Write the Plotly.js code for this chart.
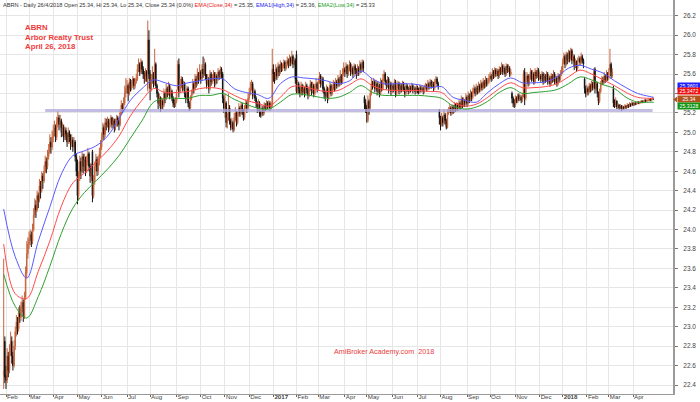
<!DOCTYPE html>
<html><head><meta charset="utf-8">
<script src="https://cdn.plot.ly/plotly-3.0.1.min.js"></script>
<style>html,body{margin:0;padding:0;background:#fff}#chart{width:700px;height:402px}</style>
</head><body><div id="chart"></div>
<script>
// Month tick labels and the trading-day index where each month starts
const monthLabels = ['Feb','Mar','Apr','May','Jun','Jul','Aug','Sep','Oct','Nov','Dec','<b>2017</b>','Feb','Mar','Apr','May','Jun','Jul','Aug','Sep','Oct','Nov','Dec','<b>2018</b>','Feb','Mar','Apr'];
const monthStartIdx = [2,22,43,64,85,107,127,150,171,192,213,234,254,273,296,315,337,359,379,402,422,444,465,485,506,525,546];

// Price axis ticks (25.4 is hidden behind the last-value labels in the original)
const priceTicks = [22.4,22.6,22.8,23.0,23.2,23.4,23.6,23.8,24.0,24.2,24.4,24.6,24.8,25.0,25.2,25.4,25.6,25.8,26.0,26.2];
const priceTickText = ['22.4','22.6','22.8','23.0','23.2','23.4','23.6','23.8','24.0','24.2','24.4','24.6','24.8','25.0','25.2','','25.6','25.8','26.0','26.2'];

// Daily OHLC (one line per month, Jan 28 2016 .. Apr 26 2018)
const open = [
22.50,22.85,
22.50,22.45,22.70,22.55,22.75,22.85,22.70,22.60,22.80,22.95,23.05,22.98,23.15,23.10,23.20,23.25,23.10,23.30,23.55,23.75,
23.85,23.90,23.95,23.88,24.00,24.15,24.25,24.20,24.35,24.30,24.45,24.40,24.55,24.50,24.60,24.70,24.65,24.75,24.80,24.90,24.85,
24.95,25.00,25.05,24.95,25.10,25.15,25.08,25.12,25.00,25.05,24.95,25.02,24.98,24.90,25.00,24.95,24.88,24.92,24.85,24.90,24.75,
24.70,24.35,24.55,24.70,24.60,24.75,24.65,24.72,24.60,24.70,24.78,24.65,24.55,24.80,24.35,24.50,24.65,24.72,24.60,24.70,24.78,
24.85,24.95,25.05,24.98,25.10,25.08,25.12,25.05,25.10,25.15,25.08,25.12,25.05,25.10,25.15,25.12,25.08,25.20,25.28,25.25,25.30,25.40,
25.45,25.48,25.40,25.52,25.45,25.50,25.55,25.48,25.52,25.55,25.65,25.70,25.62,25.72,25.65,25.60,25.55,25.62,25.45,25.95,
25.60,25.45,25.55,25.60,25.50,25.70,25.48,25.40,25.30,25.35,25.25,25.32,25.28,25.40,25.35,25.45,25.40,25.48,25.38,25.42,25.35,25.30,25.28,
25.32,25.45,25.70,25.42,25.50,25.55,25.45,25.50,25.40,25.35,25.45,25.30,25.25,25.35,25.40,25.50,25.45,25.55,25.50,25.60,25.55,
25.62,25.55,25.65,25.60,25.70,25.58,25.50,25.55,25.45,25.60,25.52,25.55,25.60,25.50,25.58,25.55,25.62,25.58,25.65,25.60,25.35,
25.25,25.30,25.10,25.15,25.25,25.12,25.05,25.10,25.03,25.15,25.20,25.10,25.18,25.25,25.20,25.28,25.22,25.15,25.25,25.30,25.25,
25.35,25.40,25.45,25.50,25.38,25.42,25.35,25.30,25.25,25.30,25.20,25.18,25.25,25.20,25.28,25.25,25.30,25.27,25.30,25.25,25.28,
25.65,25.60,25.55,25.65,25.58,25.68,25.62,25.70,25.65,25.68,25.72,25.66,25.70,25.74,25.70,25.76,25.72,25.78,25.70,25.74,
25.80,25.42,25.50,25.45,25.40,25.48,25.42,25.45,25.40,25.48,25.44,25.38,25.45,25.50,25.42,25.48,25.40,25.46,25.50,
25.45,25.52,25.58,25.50,25.55,25.45,25.40,25.38,25.45,25.35,25.42,25.48,25.40,25.45,25.50,25.45,25.52,25.48,25.55,25.50,25.58,25.52,25.60,
25.65,25.62,25.68,25.60,25.65,25.70,25.62,25.66,25.60,25.68,25.64,25.60,25.66,25.62,25.70,25.65,25.72,25.36,25.30,
25.25,25.12,25.32,25.25,25.40,25.50,25.48,25.52,25.45,25.50,25.42,25.48,25.40,25.52,25.45,25.55,25.60,25.52,25.48,25.55,25.45,25.50,
25.42,25.48,25.45,25.52,25.40,25.46,25.50,25.42,25.48,25.44,25.50,25.45,25.40,25.48,25.45,25.42,25.46,25.44,25.48,25.43,25.45,25.42,
25.46,25.44,25.42,25.46,25.44,25.45,25.42,25.46,25.48,25.45,25.50,25.47,25.52,25.48,25.50,25.46,25.52,25.55,25.50,25.22,
25.15,25.08,25.15,25.10,25.18,25.12,25.05,25.20,25.22,25.25,25.20,25.26,25.22,25.28,25.24,25.28,25.25,25.30,25.26,25.34,25.28,25.32,25.30,
25.36,25.30,25.38,25.34,25.40,25.36,25.42,25.45,25.40,25.46,25.42,25.48,25.44,25.50,25.46,25.52,25.48,25.54,25.50,25.52,
25.56,25.58,25.55,25.62,25.58,25.64,25.60,25.63,25.58,25.65,25.62,25.68,25.62,25.66,25.60,25.68,25.64,25.66,25.60,25.40,25.35,25.30,
25.28,25.35,25.32,25.38,25.34,25.36,25.33,25.38,25.62,25.35,25.55,25.58,25.50,25.56,25.62,25.55,25.60,25.52,25.62,25.58,25.64,
25.56,25.58,25.55,25.60,25.52,25.58,25.54,25.60,25.52,25.56,25.50,25.58,25.54,25.60,25.52,25.56,25.50,25.58,25.55,25.60,
25.62,25.72,25.78,25.70,25.80,25.74,25.82,25.76,25.84,25.74,25.78,25.68,25.72,25.66,25.74,25.76,25.72,25.78,25.74,25.55,25.45,
25.40,25.45,25.42,25.48,25.44,25.50,25.46,25.65,25.45,25.50,25.40,25.32,25.42,25.50,25.55,25.52,25.58,25.54,25.60,
25.56,25.64,25.70,25.58,25.45,25.30,25.28,25.32,25.26,25.28,25.25,25.27,25.24,25.26,25.25,25.27,25.26,25.28,25.27,25.29,25.28,
25.30,25.28,25.30,25.29,25.30,25.31,25.30,25.31,25.32,25.31,25.32,25.33,25.32,25.33,25.33,25.34,25.33,25.34,25.34
];
const high = [
23.70,22.90,
22.60,22.78,22.74,22.82,22.95,22.90,22.74,22.86,23.00,23.12,23.10,23.20,23.22,23.26,23.32,23.28,23.36,23.62,23.88,23.92,
23.98,24.00,23.98,24.06,24.22,24.32,24.30,24.40,24.38,24.52,24.50,24.60,24.58,24.66,24.76,24.74,24.82,24.88,24.98,24.95,25.02,
25.08,25.12,25.08,25.16,25.22,25.18,25.18,25.14,25.10,25.08,25.06,25.05,25.00,25.05,25.02,24.98,24.98,24.95,24.95,24.92,24.78,
24.72,24.60,24.76,24.74,24.80,24.78,24.78,24.75,24.76,24.84,24.80,24.68,24.68,24.82,24.56,24.70,24.78,24.75,24.76,24.84,24.92,
25.00,25.10,25.08,25.15,25.14,25.16,25.14,25.14,25.18,25.16,25.15,25.14,25.14,25.18,25.17,25.14,25.24,25.33,25.30,25.36,25.48,25.56,
25.54,25.50,25.56,25.55,25.54,25.58,25.56,25.56,25.60,25.70,25.76,25.72,25.76,25.74,25.68,25.63,25.66,25.64,26.15,26.05,
25.64,25.60,25.68,25.62,25.86,25.72,25.50,25.42,25.40,25.37,25.36,25.34,25.45,25.42,25.50,25.47,25.52,25.50,25.46,25.44,25.37,25.34,25.36,
25.44,25.74,25.76,25.55,25.58,25.57,25.53,25.52,25.42,25.48,25.47,25.32,25.38,25.44,25.55,25.52,25.60,25.58,25.66,25.62,25.70,
25.64,25.70,25.78,25.76,25.72,25.60,25.60,25.57,25.64,25.62,25.60,25.64,25.62,25.62,25.60,25.66,25.64,25.68,25.67,25.62,25.38,
25.40,25.32,25.20,25.40,25.28,25.14,25.15,25.12,25.20,25.26,25.22,25.22,25.30,25.27,25.31,25.30,25.24,25.28,25.34,25.32,25.40,
25.46,25.52,25.54,25.52,25.46,25.44,25.37,25.32,25.34,25.32,25.22,25.28,25.27,25.31,25.30,25.33,25.32,25.33,25.32,25.31,25.86,
25.70,25.62,25.70,25.67,25.72,25.70,25.74,25.72,25.71,25.75,25.74,25.73,25.78,25.76,25.80,25.78,25.84,25.80,25.77,25.76,
25.84,25.54,25.52,25.47,25.52,25.50,25.49,25.47,25.52,25.50,25.46,25.48,25.54,25.52,25.52,25.50,25.50,25.56,25.52,
25.56,25.62,25.60,25.58,25.57,25.47,25.43,25.49,25.47,25.46,25.52,25.50,25.49,25.54,25.52,25.56,25.54,25.59,25.57,25.64,25.60,25.66,25.72,
25.67,25.72,25.70,25.69,25.74,25.72,25.70,25.68,25.71,25.70,25.66,25.70,25.68,25.74,25.72,25.75,25.74,25.38,25.34,
25.28,25.38,25.34,25.44,25.56,25.53,25.56,25.54,25.54,25.52,25.52,25.50,25.56,25.54,25.60,25.64,25.62,25.54,25.58,25.57,25.53,25.52,
25.51,25.50,25.55,25.54,25.49,25.53,25.52,25.51,25.50,25.53,25.52,25.47,25.51,25.50,25.47,25.49,25.48,25.51,25.50,25.48,25.47,25.49,
25.48,25.46,25.49,25.48,25.48,25.47,25.49,25.51,25.50,25.54,25.52,25.55,25.54,25.53,25.52,25.55,25.58,25.57,25.52,25.24,
25.17,25.20,25.17,25.24,25.20,25.14,25.24,25.26,25.29,25.27,25.29,25.28,25.31,25.30,25.31,25.30,25.34,25.32,25.38,25.36,25.36,25.34,25.40,
25.38,25.42,25.40,25.44,25.42,25.46,25.49,25.47,25.50,25.48,25.52,25.50,25.54,25.52,25.56,25.54,25.58,25.56,25.56,25.60,
25.62,25.60,25.66,25.64,25.67,25.66,25.66,25.65,25.68,25.67,25.72,25.70,25.70,25.68,25.71,25.70,25.70,25.68,25.65,25.42,25.37,25.34,
25.38,25.37,25.40,25.40,25.39,25.38,25.40,25.64,25.66,25.58,25.62,25.60,25.60,25.66,25.64,25.64,25.62,25.66,25.64,25.67,25.66,
25.62,25.60,25.63,25.62,25.61,25.60,25.63,25.62,25.59,25.58,25.61,25.60,25.64,25.62,25.59,25.58,25.61,25.60,25.64,25.68,
25.76,25.82,25.80,25.83,25.82,25.85,25.84,25.87,25.86,25.81,25.80,25.76,25.74,25.77,25.79,25.78,25.82,25.80,25.76,25.57,25.48,
25.49,25.47,25.51,25.50,25.53,25.52,25.66,25.67,25.53,25.52,25.42,25.45,25.53,25.58,25.57,25.62,25.60,25.64,25.62,
25.66,25.86,25.72,25.66,25.48,25.34,25.36,25.33,25.30,25.29,25.29,25.28,25.28,25.27,25.29,25.28,25.30,25.29,25.31,25.30,25.32,
25.31,25.31,25.31,25.31,25.32,25.32,25.32,25.33,25.33,25.33,25.34,25.34,25.34,25.34,25.35,25.35,25.35,25.36,25.34
];
const low = [
22.36,22.42,
22.36,22.42,22.48,22.52,22.70,22.62,22.55,22.58,22.76,22.90,22.92,22.95,23.04,23.06,23.15,23.05,23.08,23.28,23.50,23.70,
23.80,23.84,23.82,23.85,23.98,24.12,24.12,24.18,24.22,24.28,24.32,24.38,24.42,24.48,24.58,24.58,24.62,24.72,24.78,24.78,24.82,
24.90,24.96,24.90,24.92,25.05,25.02,25.04,24.95,24.96,24.90,24.92,24.92,24.85,24.88,24.90,24.82,24.85,24.80,24.82,24.70,24.55,
24.26,24.30,24.50,24.52,24.58,24.58,24.60,24.55,24.58,24.66,24.60,24.48,24.50,24.28,24.32,24.46,24.60,24.55,24.56,24.66,24.74,
24.82,24.92,24.92,24.95,25.02,25.05,25.00,25.02,25.06,25.04,25.05,25.00,25.02,25.06,25.06,25.02,25.06,25.18,25.20,25.22,25.28,25.36,
25.40,25.32,25.38,25.42,25.43,25.46,25.44,25.45,25.50,25.53,25.62,25.58,25.60,25.60,25.55,25.50,25.52,25.52,25.42,25.55,
25.33,25.42,25.50,25.46,25.48,25.45,25.36,25.24,25.27,25.21,25.23,25.24,25.26,25.30,25.33,25.36,25.38,25.34,25.36,25.32,25.26,25.25,25.26,
25.30,25.43,25.36,25.40,25.46,25.42,25.43,25.36,25.30,25.33,25.26,25.22,25.23,25.33,25.38,25.40,25.43,25.46,25.48,25.50,25.53,
25.50,25.53,25.56,25.58,25.54,25.45,25.48,25.40,25.43,25.48,25.50,25.53,25.46,25.48,25.50,25.53,25.54,25.56,25.56,25.30,25.20,
25.15,25.05,25.04,25.12,25.08,25.02,25.03,25.00,25.01,25.12,25.06,25.08,25.16,25.16,25.18,25.18,25.12,25.13,25.23,25.20,25.23,
25.33,25.38,25.43,25.34,25.36,25.32,25.26,25.20,25.22,25.16,25.15,25.16,25.17,25.18,25.22,25.23,25.24,25.25,25.22,25.23,25.26,
25.52,25.50,25.53,25.54,25.56,25.58,25.60,25.62,25.63,25.66,25.63,25.64,25.68,25.66,25.68,25.68,25.70,25.66,25.68,25.50,
25.40,25.40,25.40,25.36,25.38,25.38,25.40,25.36,25.38,25.40,25.34,25.36,25.43,25.38,25.40,25.36,25.38,25.44,25.41,
25.43,25.50,25.46,25.48,25.41,25.35,25.32,25.36,25.30,25.33,25.40,25.37,25.38,25.43,25.42,25.43,25.45,25.46,25.47,25.48,25.49,25.50,25.58,
25.57,25.60,25.56,25.58,25.63,25.58,25.60,25.56,25.58,25.60,25.55,25.58,25.58,25.60,25.61,25.63,25.62,25.24,25.20,
25.10,25.10,25.18,25.23,25.38,25.44,25.46,25.41,25.43,25.38,25.40,25.36,25.38,25.42,25.43,25.53,25.49,25.44,25.46,25.40,25.43,25.38,
25.40,25.41,25.43,25.36,25.38,25.44,25.39,25.40,25.41,25.42,25.42,25.36,25.38,25.42,25.39,25.40,25.41,25.42,25.40,25.41,25.39,25.40,
25.40,25.39,25.40,25.41,25.42,25.39,25.40,25.44,25.42,25.43,25.44,25.45,25.45,25.46,25.42,25.44,25.50,25.47,25.44,25.08,
25.02,25.06,25.06,25.08,25.08,25.03,25.04,25.18,25.20,25.17,25.18,25.19,25.20,25.21,25.22,25.22,25.23,25.23,25.24,25.25,25.26,25.26,25.28,
25.26,25.28,25.30,25.32,25.32,25.34,25.40,25.37,25.38,25.39,25.40,25.41,25.42,25.43,25.44,25.45,25.46,25.47,25.48,25.50,
25.54,25.52,25.53,25.55,25.56,25.57,25.58,25.55,25.56,25.59,25.60,25.59,25.60,25.57,25.58,25.61,25.62,25.57,25.58,25.30,25.26,25.25,
25.26,25.30,25.30,25.32,25.32,25.30,25.31,25.36,25.28,25.33,25.52,25.47,25.48,25.54,25.52,25.53,25.49,25.50,25.55,25.56,25.53,
25.54,25.52,25.53,25.49,25.50,25.51,25.52,25.49,25.50,25.47,25.48,25.51,25.52,25.49,25.50,25.47,25.48,25.52,25.53,25.58,
25.60,25.70,25.66,25.68,25.70,25.72,25.72,25.74,25.70,25.72,25.64,25.66,25.62,25.64,25.72,25.69,25.70,25.71,25.66,25.40,25.36,
25.38,25.38,25.40,25.41,25.42,25.43,25.44,25.40,25.43,25.36,25.28,25.30,25.40,25.48,25.49,25.50,25.51,25.52,25.53,
25.54,25.62,25.55,25.56,25.26,25.25,25.26,25.24,25.24,25.23,25.24,25.22,25.23,25.23,25.24,25.24,25.25,25.25,25.26,25.26,25.27,
25.27,25.27,25.28,25.28,25.29,25.29,25.29,25.30,25.30,25.30,25.31,25.31,25.31,25.32,25.32,25.32,25.32,25.33,25.34
];
const close = [
22.55,22.48,
22.45,22.70,22.55,22.75,22.85,22.70,22.60,22.80,22.95,23.05,22.98,23.15,23.10,23.20,23.25,23.10,23.30,23.55,23.75,23.85,
23.90,23.95,23.88,24.00,24.15,24.25,24.20,24.35,24.30,24.45,24.40,24.55,24.50,24.60,24.70,24.65,24.75,24.80,24.90,24.85,24.95,
25.00,25.05,24.95,25.10,25.15,25.08,25.12,25.00,25.05,24.95,25.02,24.98,24.90,25.00,24.95,24.88,24.92,24.85,24.90,24.75,24.60,
24.35,24.55,24.70,24.60,24.75,24.65,24.72,24.60,24.70,24.78,24.65,24.55,24.62,24.35,24.50,24.65,24.72,24.60,24.70,24.78,24.85,
24.95,25.05,24.98,25.10,25.08,25.12,25.05,25.10,25.15,25.08,25.12,25.05,25.10,25.15,25.12,25.08,25.20,25.28,25.25,25.30,25.40,25.45,
25.48,25.40,25.52,25.45,25.50,25.55,25.48,25.52,25.55,25.65,25.70,25.62,25.72,25.65,25.60,25.55,25.62,25.58,25.95,25.60,
25.45,25.55,25.60,25.50,25.70,25.48,25.40,25.30,25.35,25.25,25.32,25.28,25.40,25.35,25.45,25.40,25.48,25.38,25.42,25.35,25.30,25.28,25.32,
25.40,25.70,25.42,25.50,25.55,25.45,25.50,25.40,25.35,25.45,25.30,25.25,25.35,25.40,25.50,25.45,25.55,25.50,25.60,25.55,25.62,
25.55,25.65,25.60,25.70,25.58,25.50,25.55,25.45,25.60,25.52,25.55,25.60,25.50,25.58,25.55,25.62,25.58,25.65,25.60,25.35,25.25,
25.30,25.10,25.15,25.25,25.12,25.05,25.10,25.03,25.15,25.20,25.10,25.18,25.25,25.20,25.28,25.22,25.15,25.25,25.30,25.25,25.35,
25.40,25.45,25.50,25.38,25.42,25.35,25.30,25.25,25.30,25.20,25.18,25.25,25.20,25.28,25.25,25.30,25.27,25.30,25.25,25.28,25.65,
25.60,25.55,25.65,25.58,25.68,25.62,25.70,25.65,25.68,25.72,25.66,25.70,25.74,25.70,25.76,25.72,25.78,25.70,25.74,25.55,
25.42,25.50,25.45,25.40,25.48,25.42,25.45,25.40,25.48,25.44,25.38,25.45,25.50,25.42,25.48,25.40,25.46,25.50,25.45,
25.52,25.58,25.50,25.55,25.45,25.40,25.38,25.45,25.35,25.42,25.48,25.40,25.45,25.50,25.45,25.52,25.48,25.55,25.50,25.58,25.52,25.60,25.65,
25.62,25.68,25.60,25.65,25.70,25.62,25.66,25.60,25.68,25.64,25.60,25.66,25.62,25.70,25.65,25.72,25.66,25.30,25.25,
25.20,25.32,25.25,25.40,25.50,25.48,25.52,25.45,25.50,25.42,25.48,25.40,25.52,25.45,25.55,25.60,25.52,25.48,25.55,25.45,25.50,25.42,
25.48,25.45,25.52,25.40,25.46,25.50,25.42,25.48,25.44,25.50,25.45,25.40,25.48,25.45,25.42,25.46,25.44,25.48,25.43,25.45,25.42,25.46,
25.44,25.42,25.46,25.44,25.45,25.42,25.46,25.48,25.45,25.50,25.47,25.52,25.48,25.50,25.46,25.52,25.55,25.50,25.48,25.15,
25.08,25.15,25.10,25.18,25.12,25.05,25.20,25.22,25.25,25.20,25.26,25.22,25.28,25.24,25.28,25.25,25.30,25.26,25.34,25.28,25.32,25.30,25.36,
25.30,25.38,25.34,25.40,25.36,25.42,25.45,25.40,25.46,25.42,25.48,25.44,25.50,25.46,25.52,25.48,25.54,25.50,25.52,25.56,
25.58,25.55,25.62,25.58,25.64,25.60,25.63,25.58,25.65,25.62,25.68,25.62,25.66,25.60,25.68,25.64,25.66,25.60,25.62,25.35,25.30,25.28,
25.35,25.32,25.38,25.34,25.36,25.33,25.38,25.60,25.35,25.55,25.58,25.50,25.56,25.62,25.55,25.60,25.52,25.62,25.58,25.64,25.56,
25.58,25.55,25.60,25.52,25.58,25.54,25.60,25.52,25.56,25.50,25.58,25.54,25.60,25.52,25.56,25.50,25.58,25.55,25.60,25.62,
25.72,25.78,25.70,25.80,25.74,25.82,25.76,25.84,25.74,25.78,25.68,25.72,25.66,25.74,25.76,25.72,25.78,25.74,25.70,25.45,25.40,
25.45,25.42,25.48,25.44,25.50,25.46,25.62,25.45,25.50,25.40,25.32,25.42,25.50,25.55,25.52,25.58,25.54,25.60,25.56,
25.62,25.70,25.58,25.62,25.30,25.28,25.32,25.26,25.28,25.25,25.27,25.24,25.26,25.25,25.27,25.26,25.28,25.27,25.29,25.28,25.30,
25.28,25.30,25.29,25.30,25.31,25.30,25.31,25.32,25.31,25.32,25.33,25.32,25.33,25.33,25.34,25.33,25.34,25.35,25.34
];

const emaIdx = [0,10,20,30,40,50,60,70,80,90,100,110,120,130,140,150,160,170,180,190,200,210,220,230,240,250,260,270,280,290,300,310,320,330,340,350,360,370,380,390,400,410,420,430,440,450,460,470,480,490,500,510,520,530,540,550,560,564];
const emaHigh = [24.21,23.72,23.50,23.88,24.23,24.57,24.76,24.81,24.86,24.96,25.14,25.33,25.45,25.54,25.51,25.48,25.51,25.53,25.55,25.55,25.45,25.41,25.39,25.35,25.50,25.57,25.56,25.55,25.53,25.50,25.53,25.63,25.55,25.50,25.50,25.50,25.49,25.46,25.47,25.36,25.33,25.31,25.41,25.50,25.56,25.51,25.51,25.52,25.57,25.66,25.69,25.65,25.61,25.53,25.46,25.40,25.37,25.36];
const emaClose = [23.85,23.34,23.29,23.57,23.88,24.24,24.48,24.58,24.69,24.81,24.96,25.17,25.33,25.45,25.41,25.41,25.42,25.45,25.46,25.44,25.38,25.33,25.30,25.27,25.36,25.47,25.47,25.44,25.42,25.43,25.49,25.55,25.48,25.44,25.43,25.43,25.43,25.42,25.41,25.31,25.27,25.29,25.36,25.45,25.51,25.46,25.46,25.47,25.50,25.57,25.64,25.60,25.54,25.48,25.41,25.36,25.35,25.35];
const emaLow = [23.54,23.21,23.09,23.31,23.62,23.96,24.22,24.38,24.50,24.62,24.76,24.94,25.12,25.31,25.35,25.35,25.35,25.38,25.38,25.40,25.34,25.29,25.25,25.24,25.31,25.39,25.39,25.37,25.35,25.36,25.41,25.48,25.41,25.38,25.38,25.38,25.38,25.37,25.35,25.27,25.24,25.26,25.32,25.41,25.46,25.40,25.41,25.42,25.44,25.50,25.57,25.54,25.49,25.45,25.36,25.31,25.31,25.31];

// Support line
const supportLevel = 25.225;
const supportSpan = [36, 563];

// Last-value labels on the price axis
const lastValues = [25.3601, 25.3472, 25.34, 25.3128];
const lastColors = ['#2020ff', '#ee1111', '#b2531e', '#149414'];

const idx = close.map((_, i) => i);
const FONT = 'Liberation Sans, Arial, sans-serif';

const traces = [
  {type:'candlestick', x: idx, open, high, low, close,
   increasing:{line:{color:'#c8643c', width:1}, fillcolor:'#c8643c'},
   decreasing:{line:{color:'#111111', width:1}, fillcolor:'#111111'},
   whiskerwidth:0, hoverinfo:'skip', showlegend:false},
  {type:'scatter', mode:'lines', x: supportSpan, y:[supportLevel, supportLevel],
   line:{color:'rgba(175,165,218,0.75)', width:3}, hoverinfo:'skip', showlegend:false},
  {type:'scatter', mode:'lines', x: emaIdx, y: emaHigh, line:{color:'#5a5aff', width:1, shape:'spline', smoothing:1}, hoverinfo:'skip', showlegend:false},
  {type:'scatter', mode:'lines', x: emaIdx, y: emaClose, line:{color:'#ff4a4a', width:1, shape:'spline', smoothing:1}, hoverinfo:'skip', showlegend:false},
  {type:'scatter', mode:'lines', x: emaIdx, y: emaLow, line:{color:'#2fa02f', width:1, shape:'spline', smoothing:1}, hoverinfo:'skip', showlegend:false}
];

const labelPaperY = [0.7822, 0.7678, 0.7475, 0.7320];
const annotations = [
  {xref:'paper', yref:'paper', x:0.0015, y:0.987, xanchor:'left', yanchor:'middle', showarrow:false,
   font:{family:FONT, size:5.6, color:'#333'},
   text:"ABRN - Daily 26/4/2018 Open 25.34, Hi 25.34, Lo 25.34, Close 25.34 (0.0%) <span style='color:#ee2222'>EMA(Close,34)</span> = 25.35, <span style='color:#2222ee'>EMA1(High,34)</span> = 25.36, <span style='color:#22a022'>EMA2(Low,34)</span> = 25.33"},
  {xref:'paper', yref:'paper', x:23/673, y:1-27/394, xanchor:'left', yanchor:'middle', showarrow:false,
   font:{family:FONT, size:7.8, color:'#f03a3a'}, text:'<b>ABRN</b>'},
  {xref:'paper', yref:'paper', x:23/673, y:1-37/394, xanchor:'left', yanchor:'middle', showarrow:false,
   font:{family:FONT, size:7.8, color:'#f03a3a'}, text:'<b>Arbor Realty Trust</b>'},
  {xref:'paper', yref:'paper', x:23/673, y:1-47/394, xanchor:'left', yanchor:'middle', showarrow:false,
   font:{family:FONT, size:7.8, color:'#f03a3a'}, text:'<b>April 26, 2018</b>'},
  {xref:'paper', yref:'paper', x:332/673, y:1-351/394, xanchor:'left', yanchor:'middle', showarrow:false,
   font:{family:FONT, size:7.2, color:'#e8403a'}, text:'AmiBroker Academy.com  2018'}
];
lastValues.forEach((v, k) => {
  annotations.push({xref:'paper', yref:'paper', x:677/673, y:labelPaperY[k], xanchor:'left', yanchor:'middle',
    showarrow:false, text:String(v), bgcolor:lastColors[k], borderpad:0, width:22, height:5.5,
    font:{family:FONT, size:5.2, color:'#ffffff'}});
});

// small pointer on the last-price label
const shapes = [{type:'path', xref:'paper', yref:'paper', path:'M 1.0,0.7475 L 1.00594,0.7545 L 1.00594,0.7405 Z',
  fillcolor:'#b2531e', line:{width:0}}];

const layout = {
  width:700, height:402, margin:{l:0, r:27, t:0, b:8},
  paper_bgcolor:'#ffffff', plot_bgcolor:'#ffffff', showlegend:false,
  xaxis:{range:[-3.21, 580.7], tickvals: monthStartIdx, ticktext: monthLabels,
    ticks:'outside', ticklen:2, tickcolor:'#666', ticklabelposition:'outside right', ticklabelstandoff:-3,
    tickfont:{family:FONT, size:6.2, color:'#444'}, showgrid:true, gridcolor:'#e6e6e6', gridwidth:1,
    showline:true, linecolor:'#999', linewidth:1, zeroline:false, rangeslider:{visible:false}, fixedrange:true},
  yaxis:{side:'right', range:[22.308, 26.3615], tickvals: priceTicks, ticktext: priceTickText,
    ticks:'outside', ticklen:3, tickcolor:'#777', ticklabelstandoff:4,
    tickfont:{family:FONT, size:6.5, color:'#444'}, showgrid:true, gridcolor:'#e6e6e6', gridwidth:1,
    showline:true, linecolor:'#9a9a9a', linewidth:2, zeroline:false, fixedrange:true},
  annotations, shapes
};

Plotly.newPlot('chart', traces, layout, {staticPlot:true, displayModeBar:false});
</script>
</body></html>
